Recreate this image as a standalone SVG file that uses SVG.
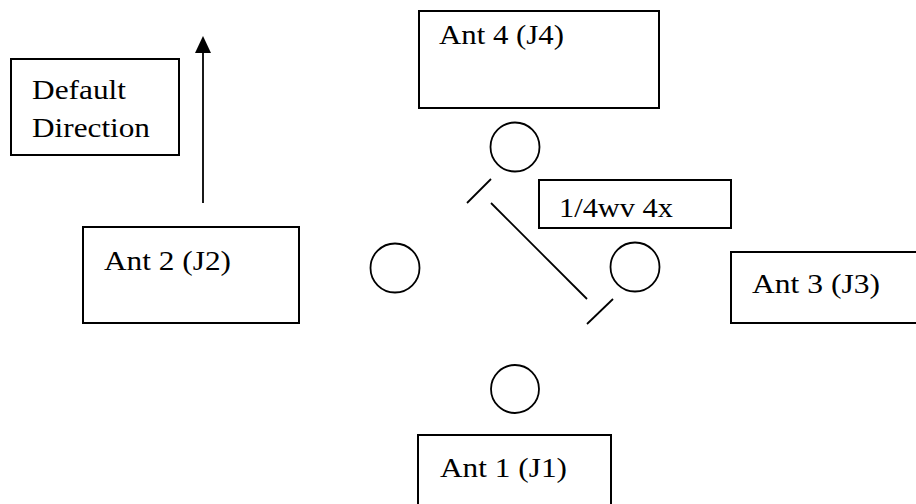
<svg xmlns="http://www.w3.org/2000/svg" width="916" height="504" viewBox="0 0 916 504">
<style>
.box{fill:#fff;stroke:#000;stroke-width:2}
.ant{fill:none;stroke:#000;stroke-width:1.8}
.ln{stroke:#000;stroke-width:1.8;fill:none}
.t{font-family:"Liberation Serif","Times New Roman",serif;font-size:28px;fill:#000}
</style>
<defs>
<marker id="ah" markerWidth="17" markerHeight="16" refX="1" refY="8" orient="auto" markerUnits="userSpaceOnUse" viewBox="0 0 17 16">
<path d="M0,0 L17,8 L0,16 Z" fill="#000"/>
</marker>
</defs>
<rect width="916" height="504" fill="#fff"/>
<g id="default-direction">
<rect class="box" x="11" y="59" width="168" height="96"/>
<text class="t" x="32" y="99" textLength="94" lengthAdjust="spacingAndGlyphs">Default</text>
<text class="t" x="32" y="137" textLength="118" lengthAdjust="spacingAndGlyphs">Direction</text>
</g>
<g id="ant4">
<rect class="box" x="419" y="11" width="240" height="97"/>
<text class="t" x="439" y="44" textLength="125" lengthAdjust="spacingAndGlyphs">Ant 4 (J4)</text>
</g>
<g id="ant2">
<rect class="box" x="83" y="227" width="216" height="96"/>
<text class="t" x="104" y="270" textLength="127" lengthAdjust="spacingAndGlyphs">Ant 2 (J2)</text>
</g>
<g id="ant3">
<rect class="box" x="731" y="252" width="200" height="71"/>
<text class="t" x="752" y="293" textLength="128" lengthAdjust="spacingAndGlyphs">Ant 3 (J3)</text>
</g>
<g id="ant1">
<rect class="box" x="418" y="435" width="193" height="80"/>
<text class="t" x="440" y="477" textLength="127" lengthAdjust="spacingAndGlyphs">Ant 1 (J1)</text>
</g>
<g id="quarter-wave">
<rect class="box" x="539" y="180" width="192" height="48"/>
<text class="t" x="559" y="217" textLength="114" lengthAdjust="spacingAndGlyphs">1/4wv 4x</text>
</g>
<g id="element-top"><circle class="ant" cx="515" cy="147" r="24.5"/></g>
<g id="element-left"><circle class="ant" cx="395" cy="268" r="24.5"/></g>
<g id="element-right"><circle class="ant" cx="635" cy="267" r="24.5"/></g>
<g id="element-bottom"><circle class="ant" cx="515" cy="389" r="24"/></g>
<g id="connectors">
<line class="ln" x1="203" y1="203" x2="203" y2="52" marker-end="url(#ah)"/>
<line class="ln" x1="491" y1="179" x2="467" y2="203"/>
<line class="ln" x1="491" y1="203" x2="587" y2="299"/>
<line class="ln" x1="613" y1="299" x2="587" y2="324"/>
</g>
</svg>
